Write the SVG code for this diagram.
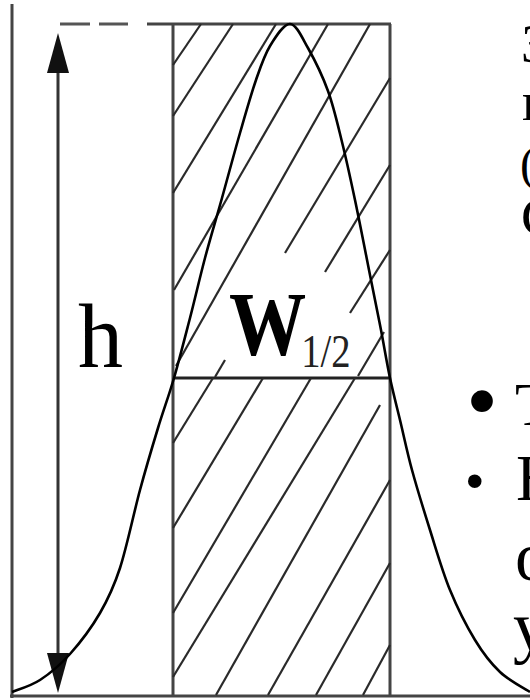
<svg xmlns="http://www.w3.org/2000/svg" width="530" height="700" viewBox="0 0 530 700">
<style>
.frame{stroke:#444;stroke-width:3;fill:none}
.dash{stroke:#555;stroke-width:3;stroke-dasharray:30 9;fill:none}
.hatch{stroke:#2a2a2a;stroke-width:2.2;fill:none}
.curve{stroke:#000;stroke-width:2.6;fill:none;stroke-linejoin:round}
.serif{font-family:"Liberation Serif","Times New Roman",serif;fill:#000}
.bul{font-family:"Liberation Sans",Arial,sans-serif;fill:#000}
</style>
<defs>
<marker id="ah" viewBox="0 0 40 22" refX="15" refY="11" markerWidth="40" markerHeight="22" markerUnits="userSpaceOnUse" orient="auto-start-reverse">
<path d="M0,0 L40,11 L0,22 z" fill="#111"/>
</marker>
</defs>
<rect width="530" height="700" fill="#fff"/>
<g id="frame">
<line class="frame" x1="12" y1="4" x2="12" y2="698"/>
<line class="frame" x1="10" y1="696" x2="530" y2="696"/>
<line class="dash" x1="60" y1="24" x2="128" y2="24"/>
<line class="frame" x1="147" y1="24" x2="391" y2="24"/>
<line class="frame" x1="173" y1="24" x2="173" y2="696"/>
<line class="frame" x1="390" y1="24" x2="390" y2="696"/>
<line class="frame" x1="173" y1="378" x2="390" y2="378" style="stroke:#222"/>
</g>
<g id="hatch">
<line class="hatch" x1="173" y1="65" x2="201" y2="24"/>
<line class="hatch" x1="173" y1="116" x2="233" y2="24"/>
<line class="hatch" x1="173" y1="193" x2="276" y2="24"/>
<line class="hatch" x1="174" y1="290" x2="328" y2="24"/>
<line class="hatch" x1="176" y1="366" x2="370" y2="24"/>
<line class="hatch" x1="285" y1="253" x2="390" y2="78"/>
<line class="hatch" x1="325" y1="272" x2="390" y2="165"/>
<line class="hatch" x1="350" y1="313" x2="390" y2="250"/>
<line class="hatch" x1="358" y1="376" x2="384" y2="332"/>
<line class="hatch" x1="215" y1="377" x2="225" y2="360"/>
<line class="hatch" x1="173" y1="443" x2="213" y2="378"/>
<line class="hatch" x1="173" y1="528" x2="263" y2="378"/>
<line class="hatch" x1="173" y1="613" x2="311" y2="378"/>
<line class="hatch" x1="173" y1="677" x2="355" y2="378"/>
<line class="hatch" x1="216" y1="695" x2="380" y2="405"/>
<line class="hatch" x1="268" y1="695" x2="390" y2="480"/>
<line class="hatch" x1="316" y1="695" x2="390" y2="563"/>
<line class="hatch" x1="363" y1="695" x2="390" y2="645"/>
</g>
<g id="height-arrow">
<line x1="58" y1="58" x2="58" y2="668" stroke="#333" stroke-width="3" marker-start="url(#ah)" marker-end="url(#ah)"/>
</g>
<g id="curve">
<path class="curve" d="M12,692 C16.7,690 30.3,686.3 40,680 C49.7,673.7 60,665.2 70,654 C80,642.8 91.7,627.3 100,613 C108.3,598.7 113.3,588.5 120,568 C126.7,547.5 133.7,513.3 140,490 C146.3,466.7 152.3,446.7 158,428 C163.7,409.3 168.7,396.3 174,378 C179.3,359.7 184.8,338 190,318 C195.2,298 199.7,278 205,258 C210.3,238 216.2,218.8 222,198 C227.8,177.2 234.3,152.7 240,133 C245.7,113.3 251,94.5 256,80 C261,65.5 264.3,55.3 270,46 C275.7,36.7 283.7,23.7 290,24 C296.3,24.3 301.7,36.8 308,48 C314.3,59.2 322.3,75.3 328,91 C333.7,106.7 337.5,123.8 342,142 C346.5,160.2 350.3,177.8 355,200 C359.7,222.2 365.7,253.3 370,275 C374.3,296.7 377.7,312.8 381,330 C384.3,347.2 386.8,363 390,378 C393.2,393 396.3,404.7 400,420 C403.7,435.3 407,451.7 412,470 C417,488.3 423.7,510 430,530 C436.3,550 442.5,571.7 450,590 C457.5,608.3 466.7,626.3 475,640 C483.3,653.7 490.8,663.3 500,672 C509.2,680.7 525,688.7 530,692"/>
</g>
<g id="labels">
<text class="serif" x="78" y="367" font-size="90">h</text>
<text class="serif" transform="translate(229,355) scale(0.84,1)"><tspan font-size="92" font-weight="bold">W</tspan><tspan font-size="46" dy="12" dx="-6" fill="#222">1/2</tspan></text>
</g>
<g id="side-text">
<text class="serif" x="521" y="62" font-size="55">З</text>
<text class="serif" x="522" y="120" font-size="55">п</text>
<text class="serif" x="520" y="180" font-size="48">(</text>
<text class="serif" x="521" y="235" font-size="55">С</text>
<text class="bul" x="468" y="428" font-size="80">•</text>
<text class="serif" x="515" y="425" font-size="61">Т</text>
<text class="bul" x="466" y="498" font-size="50">•</text>
<text class="serif" x="516" y="500" font-size="65">Н</text>
<text class="serif" x="515" y="580" font-size="70">о</text>
<text class="serif" x="513" y="650" font-size="70">у</text>
</g>
</svg>
